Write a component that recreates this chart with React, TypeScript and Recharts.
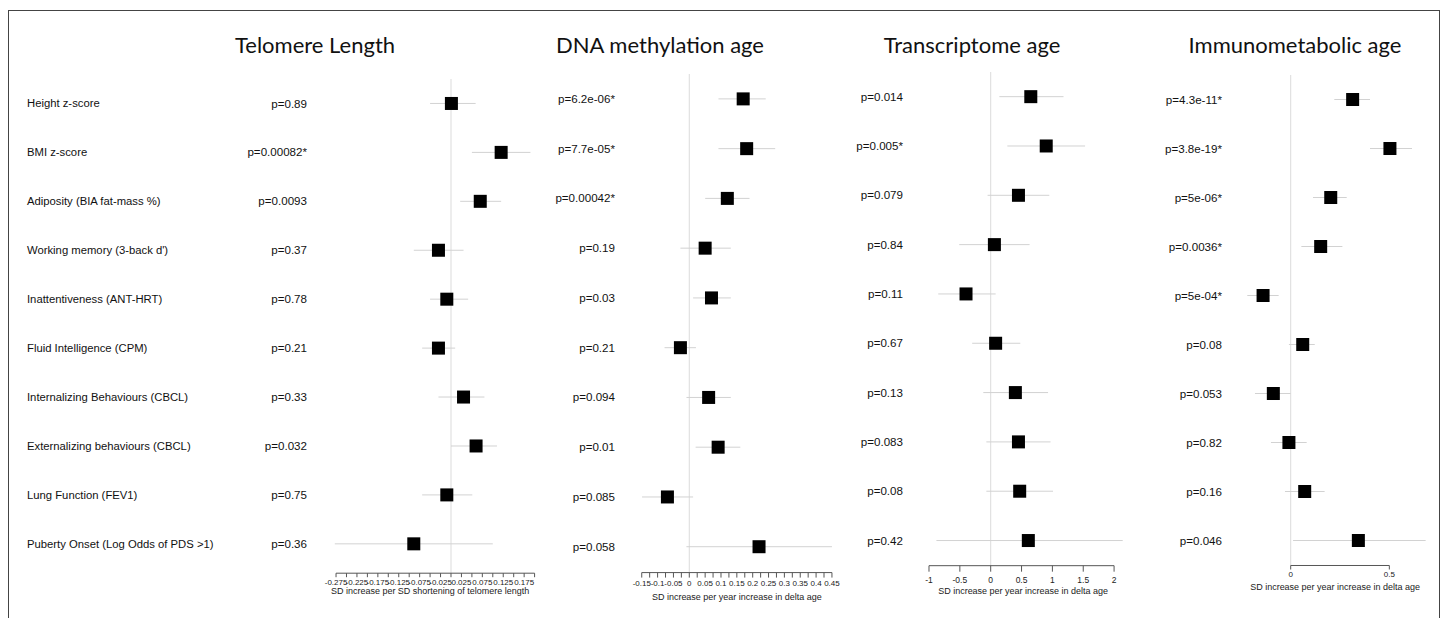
import React from 'react';
import { ScatterChart, Scatter, XAxis, YAxis, ErrorBar, ReferenceLine } from 'recharts';

const FONT = '"Liberation Sans", Arial, sans-serif';

const outcomes = [
  'Height z-score',
  'BMI z-score',
  'Adiposity (BIA fat-mass %)',
  "Working memory (3-back d')",
  'Inattentiveness (ANT-HRT)',
  'Fluid Intelligence (CPM)',
  'Internalizing Behaviours (CBCL)',
  'Externalizing behaviours (CBCL)',
  'Lung Function (FEV1)',
  'Puberty Onset (Log Odds of PDS >1)',
];
const rowIds = [1, 2, 3, 4, 5, 6, 7, 8, 9, 10];

// Telomere length
const telEst = [0.001, 0.12, 0.07, -0.03, -0.01, -0.03, 0.03, 0.06, -0.01, -0.089];
const telLow = [-0.05, 0.05, 0.022, -0.089, -0.05, -0.069, -0.03, 0.0, -0.069, -0.278];
const telHigh = [0.059, 0.19, 0.12, 0.03, 0.041, 0.01, 0.08, 0.11, 0.051, 0.1];
const telP = ['p=0.89', 'p=0.00082*', 'p=0.0093', 'p=0.37', 'p=0.78', 'p=0.21', 'p=0.33', 'p=0.032', 'p=0.75', 'p=0.36'];
const telTicks = [-0.275, -0.25, -0.225, -0.2, -0.175, -0.15, -0.125, -0.1, -0.075, -0.05, -0.025, 0, 0.025, 0.05, 0.075, 0.1, 0.125, 0.15, 0.175, 0.2];
const telTickLabels = ['-0.275', '-0.225', '-0.175', '-0.125', '-0.075', '-0.025', '0.025', '0.075', '0.125', '0.175'];

// DNA methylation age
const dnaEst = [0.17, 0.181, 0.12, 0.05, 0.07, -0.028, 0.061, 0.091, -0.069, 0.22];
const dnaLow = [0.092, 0.092, 0.05, -0.028, 0.012, -0.078, -0.009, 0.02, -0.149, -0.009];
const dnaHigh = [0.241, 0.271, 0.19, 0.131, 0.131, 0.021, 0.131, 0.161, 0.012, 0.45];
const dnaP = ['p=6.2e-06*', 'p=7.7e-05*', 'p=0.00042*', 'p=0.19', 'p=0.03', 'p=0.21', 'p=0.094', 'p=0.01', 'p=0.085', 'p=0.058'];
const dnaTicks = [-0.15, -0.125, -0.1, -0.075, -0.05, -0.025, 0, 0.025, 0.05, 0.075, 0.1, 0.125, 0.15, 0.175, 0.2, 0.225, 0.25, 0.275, 0.3, 0.325, 0.35, 0.375, 0.4, 0.425, 0.45];
const dnaTickLabels = ['-0.15', '-0.1', '-0.05', '0', '0.05', '0.1', '0.15', '0.2', '0.25', '0.3', '0.35', '0.4', '0.45'];

// Transcriptome age
const trEst = [0.65, 0.9, 0.45, 0.06, -0.4, 0.08, 0.4, 0.45, 0.47, 0.61];
const trLow = [0.14, 0.27, -0.05, -0.51, -0.85, -0.3, -0.12, -0.07, -0.07, -0.88];
const trHigh = [1.18, 1.53, 0.95, 0.63, 0.08, 0.48, 0.93, 0.97, 1.01, 2.14];
const trP = ['p=0.014', 'p=0.005*', 'p=0.079', 'p=0.84', 'p=0.11', 'p=0.67', 'p=0.13', 'p=0.083', 'p=0.08', 'p=0.42'];
const trTicks = [-1, -0.5, 0, 0.5, 1, 1.5, 2];
const trTickLabels = ['-1', '-0.5', '0', '0.5', '1', '1.5', '2'];

// Immunometabolic age
const imEst = [0.314, 0.503, 0.203, 0.152, -0.14, 0.061, -0.088, -0.009, 0.071, 0.343];
const imLow = [0.221, 0.402, 0.113, 0.054, -0.22, -0.009, -0.181, -0.1, -0.029, 0.012];
const imHigh = [0.402, 0.615, 0.284, 0.262, -0.061, 0.122, 0.0, 0.081, 0.172, 0.684];
const imP = ['p=4.3e-11*', 'p=3.8e-19*', 'p=5e-06*', 'p=0.0036*', 'p=5e-04*', 'p=0.08', 'p=0.053', 'p=0.82', 'p=0.16', 'p=0.046'];
const imTicks = [0, 0.5];
const imTickLabels = ['0', '0.5'];

type PanelProps = {
  title: string;
  titleX: number;
  est: number[];
  low: number[];
  high: number[];
  pvals: string[];
  ticks: number[];
  tickLabels: string[];
  axisTitle: string;
  domain: [number, number];
  zero: number; // pixel x of 0
  scale: number; // px per unit
  top: number;
  bottom: number;
  yMax: number;
  pRight: number;
  tickSize: number;
  tickMargin: number;
  tickFont: number;
  axisTitleY: number;
  withLabels?: boolean;
};

const Box = (props: any) => {
  const { cx, cy } = props;
  return <rect x={cx - 6.5} y={cy - 6.5} width={13} height={13} fill="#000" />;
};

function ForestPanel(p: PanelProps) {
  const plotLeft = p.zero + p.domain[0] * p.scale;
  const plotRight = p.zero + p.domain[1] * p.scale;
  const chartLeft = p.withLabels ? 15 : p.pRight - 120;
  const yW = plotLeft - chartLeft;
  const mr = 22;
  const mb = 8; // room for descenders of the axis title
  const xh = p.axisTitleY + 3 - p.bottom;
  const width = yW + (plotRight - plotLeft) + mr;
  const height = p.bottom - p.top + xh + mb;

  const data = p.est.map((v, i) => ({
    x: v,
    y: rowIds[i],
    err: [v - p.low[i], p.high[i] - v],
  }));

  const renderXTick = (props: any) => {
    const { x, y, payload } = props;
    const lbl = p.tickLabels.find((t) => parseFloat(t) === payload.value);
    if (lbl === undefined) return <g />;
    return (
      <text x={x} y={y} dy="0.71em" textAnchor="middle" fontSize={p.tickFont} fill="#222" fontFamily={FONT}>
        {lbl}
      </text>
    );
  };

  const renderYTick = (props: any) => {
    const { x, y, payload } = props;
    const idx = payload.value - 1;
    return (
      <g>
        {p.withLabels && (
          <text x={27 - chartLeft} y={y} dy="0.35em" textAnchor="start" fontSize={11.3} fill="#111" fontFamily={FONT}>
            {outcomes[idx]}
          </text>
        )}
        <text x={x} y={y} dy="0.35em" textAnchor="end" fontSize={11.6} fill="#111" fontFamily={FONT}>
          {p.pvals[idx]}
        </text>
      </g>
    );
  };

  return (
    <>
      <div
        style={{
          position: 'absolute',
          left: p.titleX,
          top: 33,
          transform: 'translateX(-50%)',
          whiteSpace: 'nowrap',
          fontFamily: 'Lato, "Open Sans", sans-serif',
          fontSize: 22,
          lineHeight: '24px',
          color: '#111',
        }}
      >
        {p.title}
      </div>
      <div style={{ position: 'absolute', left: chartLeft, top: p.top }}>
        <ScatterChart width={width} height={height} margin={{ top: 0, right: mr, bottom: mb, left: 0 }}>
          <XAxis
            type="number"
            dataKey="x"
            domain={p.domain}
            ticks={p.ticks}
            interval={0}
            allowDataOverflow
            axisLine={false}
            tickLine={{ stroke: '#555' }}
            tickSize={p.tickSize}
            tickMargin={p.tickMargin}
            tick={renderXTick}
            height={xh}
            label={{
              value: p.axisTitle,
              position: 'insideBottom',
              offset: 0,
              fontSize: 9,
              fill: '#222',
              fontFamily: FONT,
            }}
          />
          <YAxis
            type="number"
            dataKey="y"
            domain={[0.5, p.yMax]}
            reversed
            ticks={rowIds}
            interval={0}
            allowDataOverflow
            axisLine={false}
            tickLine={false}
            tickSize={0}
            tickMargin={plotLeft - p.pRight}
            width={yW}
            tick={renderYTick}
          />
          <ReferenceLine x={0} stroke="#dcdcdc" strokeWidth={1} />
          <ReferenceLine
            segment={[
              { x: p.ticks[0], y: p.yMax },
              { x: p.ticks[p.ticks.length - 1], y: p.yMax },
            ]}
            stroke="#555"
            strokeWidth={1}
            ifOverflow="visible"
          />
          <Scatter data={data} shape={Box} isAnimationActive={false}>
            <ErrorBar dataKey="err" direction="x" width={0} stroke="#d2d2d2" strokeWidth={1} />
          </Scatter>
        </ScatterChart>
      </div>
    </>
  );
}

export default function App() {
  return (
    <div
      style={{
        position: 'absolute',
        left: 0,
        top: 0,
        width: 1448,
        height: 618,
        background: '#fff',
        overflow: 'hidden',
      }}
    >
      <div
        style={{
          position: 'absolute',
          left: 8,
          top: 10,
          width: 1430,
          height: 700,
          border: '1.5px solid #444',
        }}
      />
      <ForestPanel
        title="Telomere Length"
        titleX={315}
        est={telEst}
        low={telLow}
        high={telHigh}
        pvals={telP}
        ticks={telTicks}
        tickLabels={telTickLabels}
        axisTitle="SD increase per SD shortening of telomere length"
        domain={[-0.3, 0.2]}
        zero={451}
        scale={418}
        top={78.8}
        bottom={573}
        yMax={10.6}
        pRight={307}
        tickSize={4}
        tickMargin={2}
        tickFont={8}
        axisTitleY={591}
        withLabels
      />
      <ForestPanel
        title="DNA methylation age"
        titleX={660}
        est={dnaEst}
        low={dnaLow}
        high={dnaHigh}
        pvals={dnaP}
        ticks={dnaTicks}
        tickLabels={dnaTickLabels}
        axisTitle="SD increase per year increase in delta age"
        domain={[-0.15, 0.45]}
        zero={689.3}
        scale={317}
        top={74.4}
        bottom={573}
        yMax={10.52}
        pRight={615}
        tickSize={5}
        tickMargin={3}
        tickFont={8}
        axisTitleY={597}
      />
      <ForestPanel
        title="Transcriptome age"
        titleX={972}
        est={trEst}
        low={trLow}
        high={trHigh}
        pvals={trP}
        ticks={trTicks}
        tickLabels={trTickLabels}
        axisTitle="SD increase per year increase in delta age"
        domain={[-1.1, 2.15]}
        zero={990.7}
        scale={61.7}
        top={72.3}
        bottom={566}
        yMax={10.51}
        pRight={903}
        tickSize={6}
        tickMargin={5}
        tickFont={8.5}
        axisTitleY={591}
      />
      <ForestPanel
        title="Immunometabolic age"
        titleX={1295}
        est={imEst}
        low={imLow}
        high={imHigh}
        pvals={imP}
        ticks={imTicks}
        tickLabels={imTickLabels}
        axisTitle="SD increase per year increase in delta age"
        domain={[-0.25, 0.7]}
        zero={1290.7}
        scale={197.3}
        top={74.5}
        bottom={565}
        yMax={10.51}
        pRight={1222}
        tickSize={4}
        tickMargin={2}
        tickFont={8}
        axisTitleY={587}
      />
    </div>
  );
}
